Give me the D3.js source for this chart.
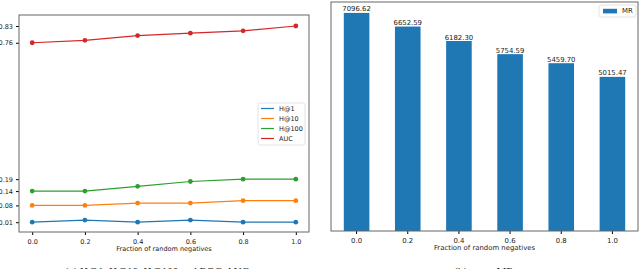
<!DOCTYPE html>
<html>
<head>
<meta charset="utf-8">
<script src="https://cdn.jsdelivr.net/npm/d3@7"></script>
<style>
  body { margin: 0; background: #fff; }
  svg { display: block; }
  text { font-family: "DejaVu Sans", sans-serif; fill: #222; }
</style>
</head>
<body>
<div class="chart"></div>
<script>
var svgWidth = 640;
var svgHeight = 269;

// Data
var fractions = [0.0, 0.2, 0.4, 0.6, 0.8, 1.0];
var fractionLabels = ["0.0", "0.2", "0.4", "0.6", "0.8", "1.0"];
var h1 = [0.010, 0.019, 0.010, 0.019, 0.010, 0.010];
var h10 = [0.08, 0.08, 0.09, 0.09, 0.10, 0.10];
var h100 = [0.14, 0.14, 0.16, 0.18, 0.19, 0.19];
var auc = [0.76, 0.77, 0.79, 0.80, 0.81, 0.83];
var leftTicks = [0.01, 0.08, 0.14, 0.19, 0.76, 0.83];
var mr = [7096.62, 6652.59, 6182.30, 5754.59, 5459.70, 5015.47];

var seriesNames = ["H@1", "H@10", "H@100", "AUC"];
var seriesColors = ["#1f77b4", "#ff7f0e", "#2ca02c", "#d62728"];

var svg = d3.select(".chart")
  .append("svg")
  .attr("width", svgWidth)
  .attr("height", svgHeight);

// ---------- Left panel: line chart ----------
var left = { x0: 19, x1: 309, y0: 15, y1: 232 };

var xLine = d3.scaleLinear()
  .domain([-0.05, 1.05])
  .range([left.x0, left.x1]);

var yLine = d3.scaleLinear()
  .domain([-0.031, 0.876])
  .range([left.y1, left.y0]);

var leftG = svg.append("g");

leftG.append("g")
  .attr("transform", `translate(0, ${left.y1})`)
  .call(d3.axisBottom(xLine).tickValues(fractions).tickFormat(d3.format(".1f")).tickSize(3).tickSizeOuter(0))
  .call(g => g.select(".domain").remove())
  .call(g => g.selectAll("text").style("font-size", "6.5px").attr("dy", "0.9em"));

leftG.append("g")
  .attr("transform", `translate(${left.x0}, 0)`)
  .call(d3.axisLeft(yLine).tickValues(leftTicks).tickFormat(d3.format(".2f")).tickSize(3).tickSizeOuter(0))
  .call(g => g.select(".domain").remove())
  .call(g => g.selectAll("text").style("font-size", "6.5px"));

var allSeries = [h1, h10, h100, auc];
var line = d3.line()
  .x((d, i) => xLine(fractions[i]))
  .y(d => yLine(d));

allSeries.forEach(function(vals, k) {
  leftG.append("path")
    .datum(vals)
    .attr("fill", "none")
    .attr("stroke", seriesColors[k])
    .attr("stroke-width", 1.2)
    .attr("d", line);

  leftG.selectAll(".pt" + k)
    .data(vals)
    .enter()
    .append("circle")
    .attr("cx", (d, i) => xLine(fractions[i]))
    .attr("cy", d => yLine(d))
    .attr("r", 2.4)
    .attr("fill", seriesColors[k]);
});

leftG.append("rect")
  .attr("x", left.x0)
  .attr("y", left.y0)
  .attr("width", left.x1 - left.x0)
  .attr("height", left.y1 - left.y0)
  .attr("fill", "none")
  .attr("stroke", "#666")
  .attr("stroke-width", 1);

// legend
var lg = leftG.append("g").attr("transform", "translate(258, 103)");
lg.append("rect")
  .attr("width", 47).attr("height", 42).attr("rx", 2)
  .attr("fill", "#fff").attr("stroke", "#ddd").attr("stroke-width", 0.8);
seriesNames.forEach(function(name, k) {
  var yy = 5.5 + k * 10;
  lg.append("line")
    .attr("x1", 3).attr("x2", 16).attr("y1", yy).attr("y2", yy)
    .attr("stroke", seriesColors[k]).attr("stroke-width", 1.2);
  lg.append("text")
    .attr("x", 21).attr("y", yy).attr("dy", "0.35em")
    .style("font-size", "6.5px").text(name);
});

leftG.append("text")
  .attr("x", (left.x0 + left.x1) / 2)
  .attr("y", 251)
  .attr("text-anchor", "middle")
  .style("font-size", "6.5px")
  .text("Fraction of random negatives");

// ---------- Right panel: bar chart ----------
var right = { x0: 331, x1: 638, y0: 2, y1: 231 };

var xBar = d3.scaleBand()
  .domain(fractionLabels)
  .range([right.x0, right.x1])
  .paddingInner(0.5)
  .paddingOuter(0.25);

var yBar = d3.scaleLinear()
  .domain([0, d3.max(mr) * 1.05])
  .range([right.y1, right.y0]);

var rightG = svg.append("g");

rightG.selectAll(".bar")
  .data(mr)
  .enter()
  .append("rect")
  .attr("x", (d, i) => xBar(fractionLabels[i]))
  .attr("y", d => yBar(d))
  .attr("width", xBar.bandwidth())
  .attr("height", d => yBar(0) - yBar(d))
  .attr("fill", "#1f77b4");

rightG.selectAll(".barLabel")
  .data(mr)
  .enter()
  .append("text")
  .attr("x", (d, i) => xBar(fractionLabels[i]) + xBar.bandwidth() / 2)
  .attr("y", d => yBar(d) - 1.5)
  .attr("text-anchor", "middle")
  .style("font-size", "6.9px")
  .text(d => d3.format(".2f")(d));

rightG.append("g")
  .attr("transform", `translate(0, ${right.y1})`)
  .call(d3.axisBottom(xBar).tickSize(3).tickSizeOuter(0))
  .call(g => g.select(".domain").remove())
  .call(g => g.selectAll("text").style("font-size", "6.9px").attr("dy", "0.9em"));

rightG.append("rect")
  .attr("x", right.x0)
  .attr("y", right.y0)
  .attr("width", right.x1 - right.x0)
  .attr("height", right.y1 - right.y0)
  .attr("fill", "none")
  .attr("stroke", "#666")
  .attr("stroke-width", 1);

var rl = rightG.append("g").attr("transform", "translate(599, 5)");
rl.append("rect")
  .attr("width", 37).attr("height", 12).attr("rx", 2)
  .attr("fill", "#fff").attr("stroke", "#ddd").attr("stroke-width", 0.8);
rl.append("rect")
  .attr("x", 4).attr("y", 3.8).attr("width", 14).attr("height", 4.6)
  .attr("fill", "#1f77b4");
rl.append("text")
  .attr("x", 23).attr("y", 6).attr("dy", "0.35em")
  .style("font-size", "6.9px").text("MR");

rightG.append("text")
  .attr("x", (right.x0 + right.x1) / 2)
  .attr("y", 250)
  .attr("text-anchor", "middle")
  .style("font-size", "6.9px")
  .text("Fraction of random negatives");

// ---------- Captions (cut off by the bottom edge, as in the original) ----------
svg.append("text")
  .attr("x", 157).attr("y", 275)
  .attr("text-anchor", "middle")
  .style("font-family", "'Liberation Serif', serif")
  .style("font-size", "11px")
  .text("(a) H@1, H@10, H@100 and ROC-AUC");

svg.append("text")
  .attr("x", 484).attr("y", 275)
  .attr("text-anchor", "middle")
  .style("font-family", "'Liberation Serif', serif")
  .style("font-size", "11px")
  .text("(b) mean MR");
</script>
</body>
</html>
